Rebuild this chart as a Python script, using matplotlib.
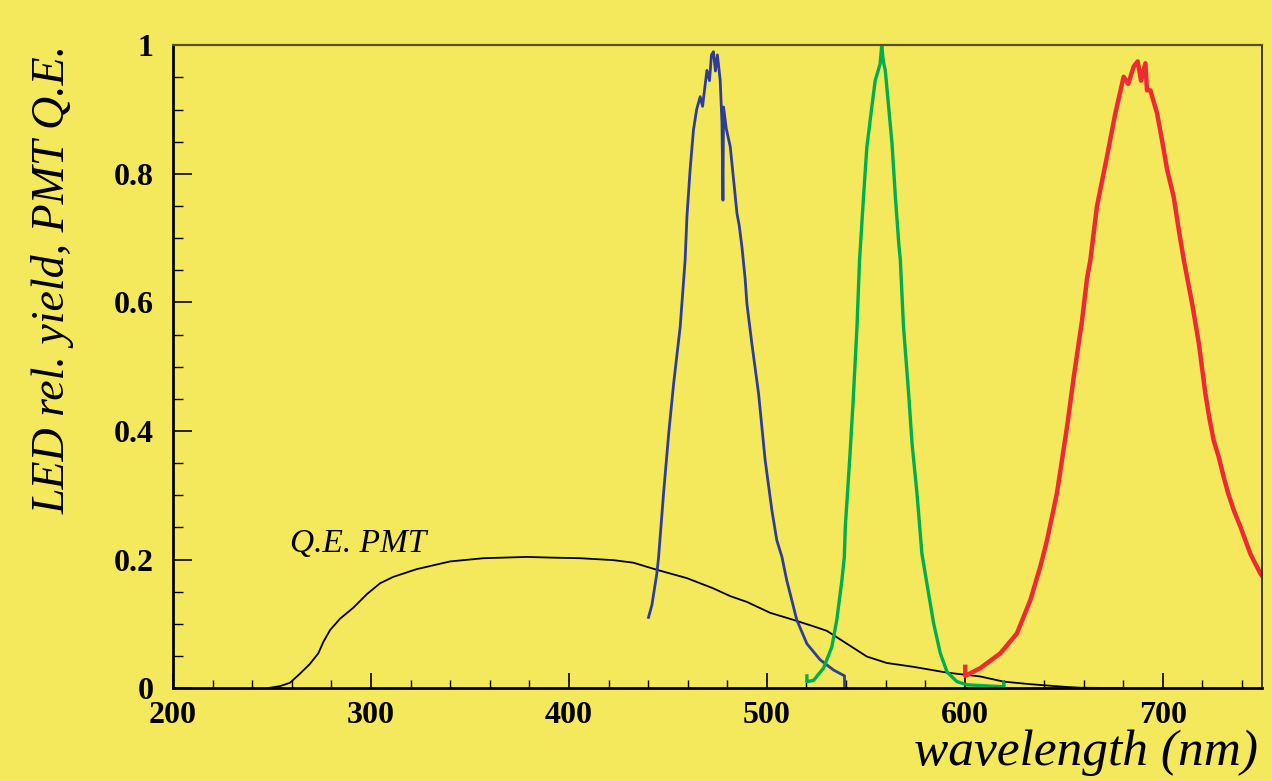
import matplotlib
matplotlib.use("Agg")
import matplotlib.pyplot as plt
from matplotlib.ticker import MultipleLocator

# PMT quantum efficiency
qe_wl = [248, 254, 259, 264, 269, 273.4, 276, 279.3, 284.4, 291.1, 297.9, 304.6, 311.3,
         323.1, 340, 356.8, 378.7, 390.5, 405.7, 422.5, 432.6, 444.4, 459.6, 473,
         481.5, 489.9, 501.7, 513.5, 523.6, 530.3, 540.4, 550.5, 560.6, 574.1, 591,
         607.8, 619.6, 633.1, 650, 658.3, 680]
qe_val = [0, 0.003, 0.008, 0.022, 0.037, 0.054, 0.072, 0.090, 0.108, 0.125, 0.146, 0.163,
          0.173, 0.185, 0.197, 0.202, 0.204, 0.203, 0.202, 0.199, 0.195, 0.184, 0.171,
          0.155, 0.143, 0.134, 0.117, 0.106, 0.096, 0.089, 0.069, 0.049, 0.039, 0.033,
          0.024, 0.018, 0.010, 0.006, 0.002, 0.0005, 0]

# blue LED
blue_wl = [440.2, 441.9, 444.4, 445.3, 447.8, 450.4, 452.9, 456.2, 458.7, 459.6, 461.2,
           462.9, 464.5, 466.3, 467.5, 469.7, 471.0, 472.0, 473.0, 474.0, 475.0, 476.4,
           477.3, 477.8, 478.1, 479.5, 481.5, 483.2, 484.9, 486.0, 487.4, 489.0, 489.9,
           492.4, 495.8, 499.1, 502.5, 505.0, 507.6, 510.0, 515.1, 520.2, 526.9, 533.7,
           539.2, 539.2]
blue_val = [0.110, 0.129, 0.178, 0.204, 0.303, 0.396, 0.474, 0.562, 0.666, 0.733, 0.806,
            0.868, 0.900, 0.920, 0.905, 0.961, 0.945, 0.985, 0.990, 0.960, 0.985, 0.946,
            0.880, 0.759, 0.904, 0.870, 0.842, 0.790, 0.738, 0.720, 0.686, 0.637, 0.598,
            0.536, 0.458, 0.355, 0.277, 0.230, 0.204, 0.168, 0.106, 0.069, 0.044, 0.028,
            0.019, 0.0]

# green LED
green_wl = [520.2, 520.2, 523.6, 528.6, 532.8, 535.3, 537.9, 539.1, 539.6, 541.8, 543.5,
            545.5, 546.8, 548.8, 550.5, 553.0, 554.7, 557.2, 558.0, 558.8, 559.8, 561.5,
            563.2, 564.9, 566.6, 567.4, 569.0, 571.6, 573.3, 575.8, 578.3, 580.8, 584.2,
            587.6, 591.0, 596.0, 601.1, 619.6, 619.6]
green_val = [0.019, 0.010, 0.012, 0.031, 0.064, 0.106, 0.168, 0.204, 0.251, 0.355, 0.443,
             0.562, 0.666, 0.764, 0.842, 0.904, 0.945, 0.971, 1.0, 0.975, 0.961, 0.904,
             0.847, 0.764, 0.692, 0.666, 0.562, 0.458, 0.381, 0.303, 0.209, 0.163, 0.101,
             0.054, 0.025, 0.010, 0.005, 0.002, 0.008]

# red LED
red_wl = [600.2, 600.2, 607.8, 617.9, 626.3, 633.1, 638.1, 639.8, 641.5, 646.5, 651.6,
          655.0, 659.2, 661.7, 663.4, 666.7, 671.8, 676.0, 680.2, 682.5, 685.3, 687.3,
          689.0, 691.2, 692.0, 693.7, 697.1, 699.6, 702.2, 705.5, 708.1, 710.6, 714.8,
          718.2, 721.5, 723.5, 725.7, 728.2, 730.7, 733.0, 735.8, 739.2, 744.2, 749.3, 750]
red_val = [0.033, 0.019, 0.031, 0.054, 0.085, 0.137, 0.189, 0.209, 0.230, 0.303, 0.406,
           0.484, 0.572, 0.637, 0.666, 0.749, 0.827, 0.894, 0.951, 0.940, 0.967, 0.975,
           0.945, 0.972, 0.930, 0.930, 0.894, 0.852, 0.806, 0.764, 0.712, 0.666, 0.598,
           0.536, 0.458, 0.420, 0.385, 0.360, 0.329, 0.303, 0.277, 0.251, 0.209, 0.178, 0.175]

bg = '#F4E85C'
serif = ['Liberation Serif', 'DejaVu Serif']

fig = plt.figure(figsize=(12.72, 7.81), dpi=100, facecolor=bg)
ax = fig.add_axes([0.136, 0.119, 0.856, 0.823], facecolor=bg)

ax.plot(qe_wl, qe_val, color='black', lw=1.3)
ax.plot(blue_wl, blue_val, color='#2F3C9A', lw=2.0)
ax.plot(green_wl, green_val, color='#00AE4F', lw=2.4)
ax.plot(red_wl, red_val, color='#EE2B32', lw=3.2)

ax.text(293.5, 0.224, 'Q.E. PMT', family=serif, style='italic', fontsize=24,
        ha='center', va='center')

ax.set_xlim(200, 750)
ax.set_ylim(0, 1)
ax.xaxis.set_major_locator(MultipleLocator(100))
ax.xaxis.set_minor_locator(MultipleLocator(20))
ax.yaxis.set_major_locator(MultipleLocator(0.2))
ax.yaxis.set_minor_locator(MultipleLocator(0.05))
ax.yaxis.set_major_formatter(lambda v, p: f'{v:.1f}' if 0.01 < v < 0.99 else f'{v:.0f}')

ax.tick_params(which='both', direction='in', top=False, right=False, color='black')
ax.tick_params(axis='x', which='major', length=11, width=1.2, pad=9)
ax.tick_params(axis='x', which='minor', length=6, width=1.0)
ax.tick_params(axis='y', which='major', length=14, width=1.2, pad=14)
ax.tick_params(axis='y', which='minor', length=7, width=1.0)
for lab in ax.get_xticklabels() + ax.get_yticklabels():
    lab.set_family(serif)
    lab.set_fontweight('bold')
    lab.set_fontsize(23)

ax.spines['left'].set_linewidth(2)
ax.spines['bottom'].set_linewidth(2)
ax.spines['top'].set_color('#5A5320')
ax.spines['right'].set_color('#3A3620')
ax.spines['top'].set_linewidth(1.6)
ax.spines['right'].set_linewidth(1.4)

fig.text(0.989, 0.0205, 'wavelength (nm)', family=serif, style='italic', fontsize=37,
         ha='right', va='baseline')
fig.text(0.042, 0.942, 'LED rel. yield, PMT Q.E.', family=serif, style='italic',
         fontsize=33, rotation=90, ha='center', va='top')

fig.savefig('out.png', dpi=100, facecolor=bg)
